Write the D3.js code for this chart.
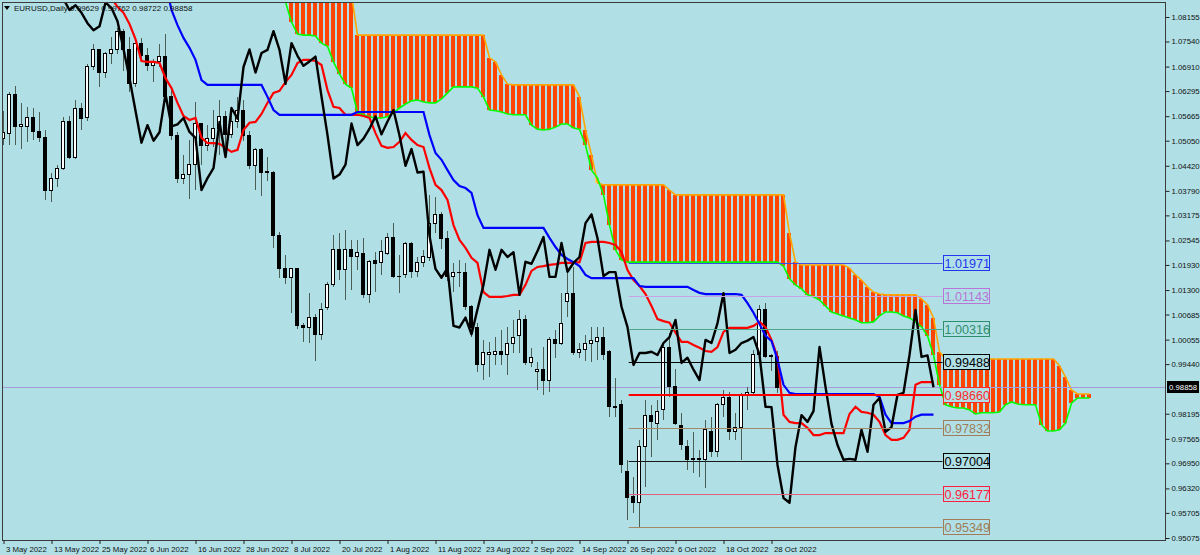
<!DOCTYPE html>
<html><head><meta charset="utf-8">
<script src="https://cdn.jsdelivr.net/npm/d3@7"></script>
<style>body{margin:0;background:#B0E0E6;}svg{display:block;}</style>
</head><body><svg id="c" width="1200" height="555"></svg>
<script>
// ---------------- DATA ----------------
const symbolTitle = "EURUSD,Daily";
const lastBarOHLC = ["0.99629", "0.99762", "0.98722", "0.98858"];
const dateLabels = ["3 May 2022","13 May 2022","25 May 2022","6 Jun 2022","16 Jun 2022","28 Jun 2022","8 Jul 2022","20 Jul 2022","1 Aug 2022","11 Aug 2022","23 Aug 2022","2 Sep 2022","14 Sep 2022","26 Sep 2022","6 Oct 2022","18 Oct 2022","28 Oct 2022"];
const dateLabelBars = [0,8,16,24,32,40,48,56,64,72,80,88,96,104,112,120,128];
const priceTicks = [1.08155,1.07540,1.06910,1.06295,1.05665,1.05050,1.04420,1.03790,1.03175,1.02545,1.01930,1.01300,1.00685,1.00055,0.99440,0.98195,0.97565,0.96950,0.96320,0.95705,0.95075];

// daily candles, 3 May 2022 .. 31 Oct 2022 (bar 0 .. 129)
const opens = [1.0510,1.0523,1.0620,1.0541,1.0540,1.0562,1.0528,1.0512,1.0381,1.0409,
1.0436,1.0552,1.0464,1.0587,1.0562,1.0690,1.0734,1.0676,1.0725,1.0733,
1.0780,1.0733,1.0648,1.0750,1.0718,1.0693,1.0704,1.0716,1.0616,1.0519,
1.0410,1.0420,1.0445,1.0548,1.0494,1.0510,1.0535,1.0566,1.0521,1.0553,
1.0582,1.0518,1.0442,1.0484,1.0425,1.0425,1.0266,1.0183,1.0161,1.0185,
1.0040,1.0036,1.0061,1.0019,1.0086,1.0143,1.0231,1.0181,1.0231,1.0213,
1.0223,1.0118,1.0204,1.0198,1.0223,1.0263,1.0165,1.0168,1.0248,1.0176,
1.0198,1.0212,1.0298,1.0320,1.0260,1.0165,1.0173,1.0175,1.0088,1.0037,
0.9942,0.9967,0.9967,0.9975,0.9967,0.9997,1.0015,1.0055,0.9947,0.9925,
0.9930,0.9904,1.0005,0.9997,1.0100,1.0122,0.9972,0.9980,0.9997,1.0001,
1.0012,0.9975,0.9837,0.9842,0.9674,0.9611,0.9596,0.9736,0.9816,0.9796,
0.9829,0.9987,0.9887,0.9791,0.9736,0.9704,0.9706,0.9704,0.9774,0.9724,
0.9842,0.9859,0.9774,0.9786,0.9867,0.9874,0.9967,1.0080,0.9962,0.99629];
const highs = [1.0580,1.0628,1.0642,1.0599,1.0590,1.0587,1.0577,1.0532,1.0424,1.0444,
1.0564,1.0566,1.0606,1.0600,1.0698,1.0748,1.0736,1.0728,1.0765,1.0787,
1.0786,1.0765,1.0750,1.0764,1.0737,1.0709,1.0748,1.0774,1.0636,1.0527,
1.0470,1.0506,1.0601,1.0550,1.0545,1.0583,1.0606,1.0580,1.0572,1.0615,
1.0606,1.0530,1.0487,1.0486,1.0463,1.0428,1.0276,1.0219,1.0186,1.0186,
1.0047,1.0122,1.0070,1.0097,1.0150,1.0268,1.0273,1.0281,1.0256,1.0256,
1.0261,1.0206,1.0226,1.0256,1.0273,1.0298,1.0218,1.0251,1.0251,1.0213,
1.0231,1.0368,1.0364,1.0325,1.0277,1.0198,1.0206,1.0198,1.0093,1.0047,
1.0004,1.0000,1.0012,1.0030,1.0037,1.0055,1.0080,1.0067,0.9985,0.9950,
0.9987,1.0012,1.0030,1.0122,1.0175,1.0188,0.9997,1.0017,1.0037,1.0037,
1.0037,0.9980,0.9909,0.9855,0.9704,0.9661,0.9754,0.9854,0.9842,0.9854,
0.9999,1.0022,0.9932,0.9822,0.9754,0.9774,0.9729,0.9804,0.9812,0.9847,
0.9879,0.9874,0.9822,0.9872,0.9887,0.9980,1.0093,1.0098,0.9970,0.99762];
const lows = [1.0494,1.0494,1.0493,1.0483,1.0502,1.0507,1.0502,1.0355,1.0351,1.0389,
1.0431,1.0460,1.0460,1.0533,1.0555,1.0683,1.0640,1.0662,1.0697,1.0722,
1.0680,1.0627,1.0639,1.0704,1.0680,1.0653,1.0690,1.0612,1.0506,1.0398,
1.0397,1.0358,1.0382,1.0445,1.0480,1.0490,1.0470,1.0487,1.0512,1.0538,
1.0505,1.0435,1.0382,1.0366,1.0405,1.0235,1.0160,1.0144,1.0072,1.0033,
0.9999,0.9998,0.9952,1.0005,1.0080,1.0138,1.0155,1.0105,1.0130,1.0181,
1.0110,1.0097,1.0125,1.0168,1.0218,1.0160,1.0123,1.0160,1.0160,1.0163,
1.0188,1.0202,1.0273,1.0232,1.0152,1.0125,1.0138,1.0080,1.0012,0.9924,
0.9904,0.9912,0.9942,0.9942,0.9917,0.9972,0.9972,0.9942,0.9937,0.9879,
0.9866,0.9874,0.9960,0.9992,1.0063,0.9967,0.9960,0.9952,0.9950,0.9955,
0.9955,0.9811,0.9811,0.9671,0.9553,0.9571,0.9535,0.9636,0.9711,0.9754,
0.9804,0.9862,0.9790,0.9729,0.9678,0.9671,0.9661,0.9633,0.9711,0.9711,
0.9812,0.9754,0.9754,0.9704,0.9829,0.9866,0.9955,0.9960,0.9927,0.98722];
const closes = [1.0526,1.0622,1.0541,1.0546,1.0562,1.0527,1.0512,1.0381,1.0411,1.0436,
1.0552,1.0464,1.0587,1.0560,1.0690,1.0734,1.0676,1.0725,1.0733,1.0780,
1.0733,1.0648,1.0750,1.0718,1.0693,1.0704,1.0716,1.0616,1.0519,1.0410,
1.0420,1.0445,1.0548,1.0494,1.0510,1.0535,1.0566,1.0521,1.0553,1.0582,
1.0518,1.0442,1.0484,1.0425,1.0427,1.0266,1.0183,1.0161,1.0185,1.0040,
1.0036,1.0061,1.0019,1.0082,1.0143,1.0231,1.0181,1.0231,1.0213,1.0225,
1.0118,1.0201,1.0196,1.0228,1.0263,1.0163,1.0163,1.0248,1.0176,1.0198,
1.0213,1.0298,1.0320,1.0260,1.0165,1.0175,1.0175,1.0088,1.0037,0.9942,
0.9972,0.9972,0.9975,0.9967,0.9997,1.0012,1.0055,0.9947,0.9960,0.9930,
0.9904,1.0005,0.9997,1.0047,1.0122,0.9972,0.9980,0.9997,1.0003,1.0012,
0.9968,0.9837,0.9836,0.9691,0.9608,0.9596,0.9736,0.9816,0.9799,0.9826,
0.9987,0.9887,0.9794,0.9741,0.9704,0.9706,0.9704,0.9779,0.9724,0.9842,
0.9859,0.9774,0.9786,0.9867,0.9872,0.9967,1.0080,0.9962,0.9966,0.98858];
// closes of the 17 sessions before 3 May (feed the lagging span)
const priorCloses = [1.0900,1.0860,1.0833,1.0845,1.0826,1.0800,1.0782,1.0792,1.0852,1.0838,1.0805,1.0735,1.0662,1.0580,1.0500,1.0544,1.0505];
const displacement = 26;

// Ichimoku lines (first value sits at the given bar)
const tenkanStart = 17;
const tenkan = [1.0888,1.0863,1.0841,1.0826,1.0798,1.0760,1.0705,1.0703,1.0703,1.0700,
1.0662,1.0637,1.0600,1.0567,1.0557,1.0562,1.0512,1.0499,1.0499,1.0497,
1.0487,1.0477,1.0482,1.0532,1.0550,1.0552,1.0572,1.0600,1.0625,1.0630,
1.0652,1.0670,1.0700,1.0708,1.0708,1.0705,1.0695,1.0632,1.0590,1.0587,
1.0570,1.0570,1.0570,1.0567,1.0562,1.0524,1.0492,1.0487,1.0489,1.0502,
1.0524,1.0507,1.0494,1.0489,1.0436,1.0394,1.0381,1.0356,1.0293,1.0256,
1.0236,1.0211,1.0198,1.0125,1.0113,1.0113,1.0113,1.0115,1.0118,1.0118,
1.0143,1.0178,1.0188,1.0190,1.0193,1.0195,1.0198,1.0198,1.0198,1.0200,
1.0248,1.0251,1.0251,1.0251,1.0248,1.0243,1.0226,1.0180,1.0155,1.0140,
1.0120,1.0090,1.0057,1.0052,1.0048,1.0023,1.0000,1.0000,0.9992,0.9985,
0.9977,0.9975,0.9987,1.0025,1.0035,1.0035,1.0035,1.0035,1.0040,1.0050,
1.0037,1.0005,0.9962,0.9817,0.9799,0.9796,0.9796,0.9784,0.9766,0.9766,
0.9771,0.9771,0.9771,0.9771,0.9819,0.9837,0.9824,0.9822,0.9817,0.9799,
0.9766,0.9754,0.9754,0.9759,0.9779,0.9892,0.9899,0.9899,0.9899];
const kijunStart = 27;
const kijun = [1.0900,1.0833,1.0795,1.0763,1.0738,1.0708,1.0657,1.0645,1.0645,1.0645,
1.0645,1.0645,1.0645,1.0645,1.0645,1.0645,1.0645,1.0615,1.0582,1.0570,
1.0570,1.0570,1.0570,1.0570,1.0570,1.0570,1.0570,1.0570,1.0570,1.0570,
1.0570,1.0570,1.0577,1.0577,1.0577,1.0577,1.0577,1.0577,1.0577,1.0577,
1.0577,1.0577,1.0577,1.0577,1.0519,1.0474,1.0457,1.0431,1.0406,1.0391,
1.0386,1.0374,1.0318,1.0286,1.0286,1.0286,1.0286,1.0286,1.0286,1.0286,
1.0286,1.0286,1.0286,1.0286,1.0261,1.0238,1.0218,1.0208,1.0200,1.0190,
1.0168,1.0160,1.0160,1.0160,1.0160,1.0160,1.0160,1.0160,1.0160,1.0140,
1.0138,1.0138,1.0138,1.0138,1.0138,1.0138,1.0138,1.0138,1.0130,1.0123,
1.0120,1.0120,1.0120,1.0120,1.0120,1.0120,1.0118,1.0097,1.0073,1.0045,
1.0015,1.0002,0.9955,0.9892,0.9872,0.9869,0.9869,0.9869,0.9869,0.9869,
0.9869,0.9869,0.9869,0.9869,0.9869,0.9869,0.9869,0.9869,0.9869,0.9862,
0.9817,0.9796,0.9796,0.9796,0.9801,0.9812,0.9817,0.9817,0.9817];
const senkouStart = 47;
const senkouA = [1.0853,1.0803,1.0773,1.0770,1.0770,1.0768,1.0750,1.0742,1.0703,1.0672,
1.0647,1.0637,1.0575,1.0570,1.0565,1.0562,1.0562,1.0565,1.0575,1.0587,
1.0597,1.0605,1.0607,1.0602,1.0600,1.0600,1.0610,1.0625,1.0640,1.0640,
1.0640,1.0640,1.0637,1.0615,1.0582,1.0580,1.0577,1.0572,1.0570,1.0570,
1.0570,1.0544,1.0534,1.0532,1.0534,1.0539,1.0547,1.0547,1.0537,1.0534,
1.0494,1.0431,1.0411,1.0369,1.0293,1.0231,1.0206,1.0200,1.0200,1.0200,
1.0200,1.0200,1.0200,1.0200,1.0200,1.0200,1.0200,1.0200,1.0200,1.0200,
1.0200,1.0200,1.0200,1.0200,1.0200,1.0200,1.0200,1.0200,1.0200,1.0200,
1.0200,1.0200,1.0200,1.0190,1.0158,1.0143,1.0133,1.0118,1.0113,1.0105,
1.0090,1.0075,1.0070,1.0065,1.0060,1.0055,1.0048,1.0048,1.0050,1.0065,
1.0075,1.0075,1.0073,1.0065,1.0060,1.0050,1.0038,1.0015,0.9967,0.9892,
0.9842,0.9837,0.9834,0.9834,0.9829,0.9819,0.9822,0.9822,0.9822,0.9824,
0.9842,0.9849,0.9844,0.9842,0.9842,0.9842,0.9792,0.9776,0.9776,0.9779,
0.9796,0.9846,0.9859,0.9859,0.9859];
const senkouB = [1.0921,1.0921,1.0921,1.0921,1.0921,1.0921,1.0921,1.0921,1.0921,1.0921,
1.0921,1.0871,1.0770,1.0770,1.0770,1.0770,1.0770,1.0770,1.0770,1.0770,
1.0770,1.0770,1.0770,1.0770,1.0770,1.0770,1.0770,1.0770,1.0770,1.0770,
1.0770,1.0770,1.0770,1.0770,1.0713,1.0703,1.0670,1.0647,1.0645,1.0645,
1.0645,1.0645,1.0645,1.0645,1.0645,1.0645,1.0645,1.0645,1.0645,1.0615,
1.0532,1.0469,1.0399,1.0394,1.0394,1.0394,1.0394,1.0394,1.0394,1.0394,
1.0394,1.0394,1.0394,1.0394,1.0381,1.0369,1.0369,1.0369,1.0369,1.0369,
1.0369,1.0369,1.0369,1.0369,1.0369,1.0369,1.0369,1.0369,1.0369,1.0369,
1.0369,1.0369,1.0369,1.0369,1.0273,1.0200,1.0193,1.0193,1.0193,1.0193,
1.0193,1.0193,1.0193,1.0193,1.0185,1.0168,1.0155,1.0138,1.0125,1.0120,
1.0118,1.0118,1.0118,1.0118,1.0118,1.0118,1.0108,1.0093,1.0060,0.9975,
0.9957,0.9957,0.9957,0.9957,0.9957,0.9957,0.9957,0.9957,0.9957,0.9957,
0.9957,0.9957,0.9957,0.9957,0.9957,0.9957,0.9957,0.9957,0.9957,0.9940,
0.9912,0.9879,0.9869,0.9869,0.9869];

// horizontal levels with their price labels
const levelValues = [1.01971,1.01143,1.00316,0.99488,0.98660,0.97832,0.97004,0.96177,0.95349];
const levelLabels = ["1.01971","1.01143","1.00316","0.99488","0.98660","0.97832","0.97004","0.96177","0.95349"];
const levelFromBar = 104.2, levelToBar = 156.5;
const currentPrice = 0.98858;

// ---------------- STYLE ----------------
const BG = "#B0E0E6";
const levelLineColors = ["#3F4FE6","#C8A2E2","#4FA585","#000000","#FF0000","#A58866","#1A1A1A","#E2607A","#A58866"];
const levelTextColors = ["#2536F0","#B874D6","#2F8F6A","#000000","#FF2A2A","#A07C58","#000000","#FF2040","#A07C58"];
const levelLineWidths = [1,1,1,1,2,1,1,1,1];
const FONT = "'Liberation Sans', Arial, sans-serif";

// ---------------- CHART ----------------
const svg = d3.select("#c");
svg.append("rect").attr("width",1200).attr("height",555).attr("fill",BG);
const P = {l:2, t:2, r:1166, b:540};
const x = d3.scaleLinear().domain([0, 1]).range([3.5, 9.5]);   // 6 px per bar
const y = d3.scaleLinear().domain([0.95075, 1.08155]).range([538, 17]);

svg.append("defs").append("clipPath").attr("id","pc")
  .append("rect").attr("x",P.l).attr("y",P.t).attr("width",P.r-P.l).attr("height",P.b-P.t);
const g = svg.append("g").attr("clip-path","url(#pc)");

// cloud stripes
const cloud = senkouA.map((a,k)=>({i:senkouStart+k, a, b:senkouB[k]}));
g.append("g").selectAll("rect").data(cloud).join("rect")
  .attr("x",d=>x(d.i)-2.5).attr("width",4)
  .attr("y",d=>y(Math.max(d.a,d.b))).attr("height",d=>Math.abs(y(d.a)-y(d.b)))
  .attr("fill",d=>d.b>=d.a?"#FF4500":"#FFD27F").attr("shape-rendering","crispEdges");

const line = d3.line().x(d=>x(d[0])).y(d=>y(d[1]));
g.append("path").attr("d",line(senkouB.map((v,k)=>[senkouStart+k,v])))
  .attr("fill","none").attr("stroke","#FFA500").attr("stroke-width",1.6);
g.append("path").attr("d",line(senkouA.map((v,k)=>[senkouStart+k,v])))
  .attr("fill","none").attr("stroke","#00FF00").attr("stroke-width",1.6);

// current price line
g.append("line").attr("x1",P.l).attr("x2",P.r).attr("y1",Math.round(y(currentPrice))+0.5).attr("y2",Math.round(y(currentPrice))+0.5)
  .attr("stroke","#A99BDA").attr("stroke-width",1);

// candles
const bars = closes.map((c,i)=>({i,o:opens[i],h:highs[i],l:lows[i],c}));
const cg = g.append("g").attr("shape-rendering","crispEdges");
cg.selectAll("line").data(bars).join("line")
  .attr("x1",d=>x(d.i)).attr("x2",d=>x(d.i)).attr("y1",d=>y(d.h)).attr("y2",d=>y(d.l))
  .attr("stroke","#4A5E55").attr("stroke-width",1);
cg.selectAll("rect").data(bars).join("rect")
  .attr("x",d=>x(d.i)-2).attr("width",3)
  .attr("y",d=>y(Math.max(d.o,d.c))).attr("height",d=>Math.max(0.5,Math.abs(y(d.o)-y(d.c))))
  .attr("fill",d=>d.c>=d.o?"#FFFFFF":"#000000").attr("stroke","#000000").attr("stroke-width",1);

// Ichimoku lines
g.append("path").attr("d",line(tenkan.map((v,k)=>[tenkanStart+k,v])))
  .attr("fill","none").attr("stroke","#FF0000").attr("stroke-width",2.2);
g.append("path").attr("d",line(kijun.map((v,k)=>[kijunStart+k,v])))
  .attr("fill","none").attr("stroke","#0000FF").attr("stroke-width",2.2);
const chikouStart = displacement - priorCloses.length;
const chikou = priorCloses.concat(closes).map((v,k)=>[chikouStart+k, v]);
g.append("path").attr("d",line(chikou))
  .attr("fill","none").attr("stroke","#000000").attr("stroke-width",2.4).attr("stroke-linejoin","round");

// levels
const lv = g.append("g");
levelValues.forEach((v,k)=>{
  const yy = Math.round(y(v)) + (levelLineWidths[k]===1?0.5:0);
  lv.append("line").attr("x1",x(levelFromBar)).attr("x2",x(levelToBar)).attr("y1",yy).attr("y2",yy)
    .attr("stroke",levelLineColors[k]).attr("stroke-width",levelLineWidths[k]);
});
levelValues.forEach((v,k)=>{
  const bx = x(levelToBar)+0.5;
  lv.append("rect").attr("x",bx).attr("y",Math.round(y(v))-7.5).attr("width",46).attr("height",15)
    .attr("fill",BG).attr("stroke",levelTextColors[k]).attr("stroke-width",1).attr("shape-rendering","crispEdges");
  lv.append("text").attr("x",bx+1.5).attr("y",Math.round(y(v))+5)
    .attr("font-family",FONT).attr("font-size",12.6).attr("fill",levelTextColors[k]).text(levelLabels[k]);
});

// frame
svg.append("rect").attr("x",P.l+0.5).attr("y",P.t+0.5).attr("width",P.r-P.l-1).attr("height",P.b-P.t)
  .attr("fill","none").attr("stroke","#3C3C3C").attr("stroke-width",1).attr("shape-rendering","crispEdges");

// right price axis
const ya = svg.append("g").attr("transform",`translate(${P.r-0.5},0)`)
  .call(d3.axisRight(y).tickValues(priceTicks).tickFormat(d3.format(".5f")).tickSize(4).tickSizeOuter(0));
ya.select(".domain").remove();
ya.selectAll("line").attr("stroke","#222");
ya.selectAll("text").attr("font-family",FONT).attr("font-size",7.8).attr("fill","#111").attr("x",6);

// current price label
const cy = Math.round(y(currentPrice));
svg.append("rect").attr("x",P.r+1).attr("y",cy-6).attr("width",32).attr("height",12).attr("fill","#000");
svg.append("text").attr("x",P.r+3).attr("y",cy+3).attr("font-family",FONT).attr("font-size",7.8)
  .attr("fill","#fff").text(d3.format(".5f")(currentPrice));

// bottom date axis
const xa = svg.append("g").attr("transform",`translate(0,${P.b})`)
  .call(d3.axisBottom(x).tickValues(dateLabelBars).tickFormat((d,k)=>dateLabels[k]).tickSize(4).tickSizeOuter(0));
xa.select(".domain").remove();
xa.selectAll("line").attr("stroke","#222");
xa.selectAll("text").attr("font-family",FONT).attr("font-size",7.8).attr("fill","#111")
  .attr("text-anchor","start").attr("dx",2).attr("y",6);

// header
svg.append("path").attr("d","M4,6 L10,6 L7,10 Z").attr("fill","#000");
svg.append("text").attr("x",14).attr("y",11).attr("font-family",FONT).attr("font-size",8)
  .attr("fill","#111").text(symbolTitle + " " + lastBarOHLC.join(" "));
</script></body></html>
